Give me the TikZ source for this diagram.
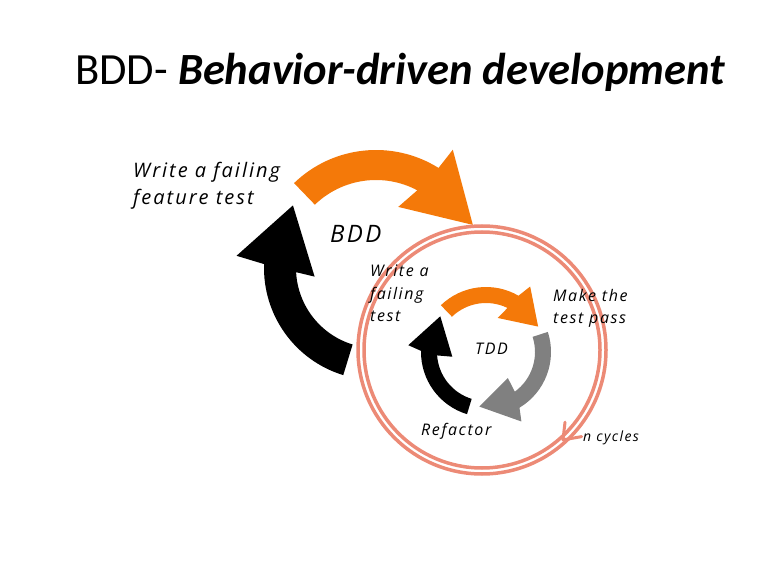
\documentclass[tikz,border=0pt]{standalone}
\usepackage{fontspec}
\usepackage{tikz}
\setmainfont{Carlito}
\newfontfamily\handfont[LetterSpace=10]{Open Sans}
\definecolor{borange}{RGB}{244,121,9}
\definecolor{bgrey}{RGB}{128,128,128}
\definecolor{bsalmon}{RGB}{236,138,118}
\tikzset{hand/.style 2 args = {font=\handfont\itshape\fontsize{#1}{#2}\selectfont,
                               inner sep=0pt, align=left, anchor=base west},
         ring/.style = {bsalmon, line width=3.5pt}}

\begin{document}
\begin{tikzpicture}[x=1pt, y=1pt]
    \useasboundingbox (0, 0) rectangle (768, 576);
    \coordinate (bdd) at (376, 308);
    \coordinate (tdd) at (486, 224);
    \coordinate (loop) at (482, 226);

    \node [anchor=base west, inner sep=0pt, font=\fontsize{44.6}{52}\selectfont] (title) at (75, 491)
        {BDD- \textbf{\textit{Behavior-driven development}}};

    \fill [borange, shift={(bdd)}] (134:118) arc [start angle=134, end angle=58, radius=118]
        -- (57:141) -- (24:106) -- (70:65) -- (62:88) arc [start angle=62, end angle=134, radius=88] -- cycle;
    \fill [black, shift={(bdd)}] (253:112) arc [start angle=253, end angle=178, radius=112]
        -- (175:140) -- (143:104) -- (188:62) -- (183:80) arc [start angle=183, end angle=253, radius=80] -- cycle;

    \fill [borange, shift={(tdd)}] (134:65) arc [start angle=134, end angle=60, radius=65]
        -- (56:79) -- (26:58) -- (71:36) -- (64:49) arc [start angle=64, end angle=134, radius=49] -- cycle;
    \fill [bgrey, shift={(tdd)}] (18:65) arc [start angle=18, end angle=-59, radius=65]
        -- (-63:78) -- (-97:55) -- (-50:34) -- (-54:49) arc [start angle=-54, end angle=18, radius=49] -- cycle;
    \fill [black, shift={(tdd)}] (253:65) arc [start angle=253, end angle=179, radius=65]
        -- (175:78) -- (142:58) -- (188:34) -- (184:49) arc [start angle=184, end angle=253, radius=49] -- cycle;

    \draw [ring] (loop) circle [radius=124];
    \draw [ring] (loop) circle [radius=118];
    \draw [ring, line width=3pt, line cap=round, line join=round, shift={(loop)}]
        (-41:110) -- (-48:121) -- (-41:132);

    \node [hand={20}{27}] (feature) at (133, 371) {Write a failing\\feature test};
    \node [hand={24}{30}] (bddlabel) at (330, 333) {BDD};
    \node [hand={16}{22.5}] (writetest) at (370, 254) {Write a\\failing\\test};
    \node [hand={16}{22}] (passtest) at (553, 252) {Make the\\test pass};
    \node [hand={16}{22}] (tddlabel) at (475, 221) {TDD};
    \node [hand={16}{22}] (refactor) at (421, 141) {Refactor};
    \node [hand={14}{18}] (cycles) at (583, 135) {n cycles};
\end{tikzpicture}
\end{document}
